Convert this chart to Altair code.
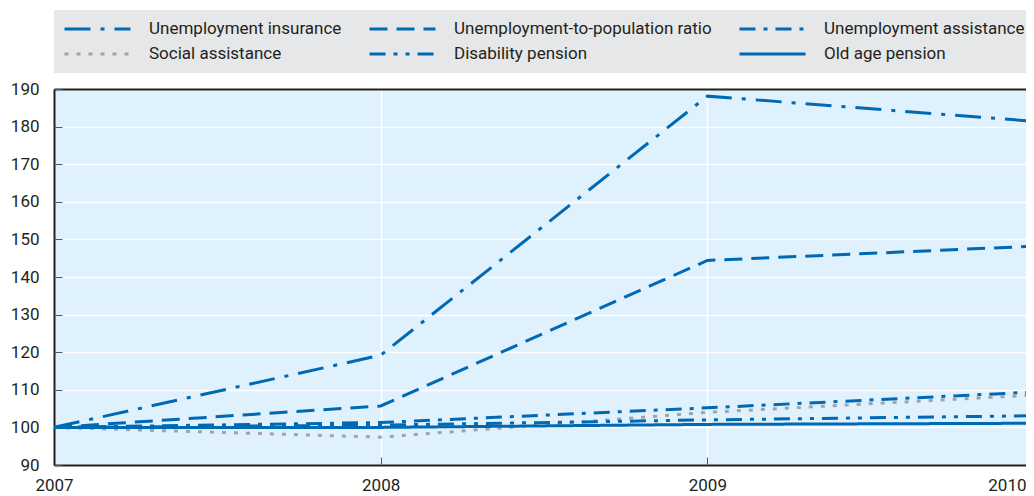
import altair as alt
import pandas as pd

years = [2007, 2008, 2009, 2010]
series_names = [
    "Unemployment insurance",
    "Unemployment-to-population ratio",
    "Unemployment assistance",
    "Social assistance",
    "Disability pension",
    "Old age pension",
]
unemployment_insurance = [100, 119.2, 188.1, 181.4]
unemployment_to_population = [100, 105.7, 144.4, 148.2]
unemployment_assistance = [100, 101.3, 105.2, 109.4]
social_assistance = [100, 97.4, 104.0, 108.6]
disability_pension = [100, 100.6, 102.0, 103.1]
old_age_pension = [100, 100.0, 100.8, 101.1]
y_ticks = list(range(90, 191, 10))

all_series = [
    unemployment_insurance,
    unemployment_to_population,
    unemployment_assistance,
    social_assistance,
    disability_pension,
    old_age_pension,
]

rows = []
for name, vals in zip(series_names, all_series):
    for yr, v in zip(years, vals):
        rows.append({"series": name, "year": yr, "value": v})
df = pd.DataFrame(rows)

BLUE = "#0069b4"
GREY = "#a3a3a3"
TEXT = "#231f20"
colors = [BLUE, BLUE, BLUE, GREY, BLUE, BLUE]
dashes = [[26, 10, 4, 10], [18, 9], [16, 8, 4, 8], [4, 8], [16, 8, 4, 8, 4, 8], [1, 0]]

W, H = 972, 376
XR = 980  # x range extends past the visible plot edge, as in the cropped original

xscale = alt.Scale(domain=[2007, 2010], range=[0, XR], nice=False, zero=False)
yscale = alt.Scale(domain=[90, 190], nice=False, zero=False)

legend = alt.Legend(
    title=None,
    orient="none",
    direction="horizontal",
    legendX=0,
    legendY=-79,
    columns=3,
    symbolType="stroke",
    symbolSize=4356,
    symbolStrokeWidth=3,
    clipHeight=20,
    rowPadding=5,
    columnPadding=26,
    labelOffset=17,
    labelFontSize=17,
    labelFont="Roboto",
    labelColor=TEXT,
    labelLimit=400,
    fillColor="#e6e7e8",
    padding=9,
)

last_year_test = "datum.value == 2010"

lines = alt.Chart(df).mark_line(strokeWidth=3, clip=True).encode(
    x=alt.X(
        "year:Q",
        scale=xscale,
        axis=alt.Axis(
            title=None,
            orient="bottom",
            values=years,
            format="d",
            grid=True,
            gridColor="white",
            gridWidth=1.5,
            domainColor=TEXT,
            domainWidth=2,
            ticks=False,
            labelPadding=12,
            labelFlush=False,
            labelAlign={"condition": {"test": last_year_test, "value": "right"}, "value": "center"},
            labelOffset={"condition": {"test": last_year_test, "value": -8}, "value": 0},
            labelFontSize=17,
            labelFont="Roboto",
            labelColor=TEXT,
            labelOverlap=False,
        ),
    ),
    y=alt.Y(
        "value:Q",
        scale=yscale,
        axis=alt.Axis(
            title=None,
            orient="left",
            values=y_ticks,
            grid=True,
            gridColor="white",
            gridWidth=1.5,
            domainColor=TEXT,
            domainWidth=2,
            ticks=False,
            labelPadding=15,
            labelFontSize=17,
            labelFont="Roboto",
            labelColor=TEXT,
            labelOverlap=False,
        ),
    ),
    color=alt.Color("series:N", scale=alt.Scale(domain=series_names, range=colors), legend=legend),
    strokeDash=alt.StrokeDash("series:N", scale=alt.Scale(domain=series_names, range=dashes), legend=legend),
)

ticks = alt.Chart(df).mark_line(opacity=0).encode(
    x=alt.X(
        "year:Q",
        scale=xscale,
        axis=alt.Axis(
            title=None, orient="top", offset=-H, values=years, labels=False,
            domain=False, grid=False, ticks=True, tickSize=8, tickColor="#555555", tickWidth=1,
        ),
    ),
    y=alt.Y(
        "value:Q",
        scale=yscale,
        axis=alt.Axis(
            title=None, orient="right", offset=-W, values=y_ticks, labels=False,
            domain=False, grid=False, ticks=True, tickSize=8, tickColor="#555555", tickWidth=1,
        ),
    ),
    detail="series:N",
)

border = alt.Chart(df).mark_line(opacity=0).encode(
    x=alt.X(
        "year:Q",
        scale=xscale,
        axis=alt.Axis(
            title=None, orient="top", values=years, labels=False,
            domain=True, domainColor=TEXT, domainWidth=2, grid=False, ticks=False,
        ),
    ),
    y=alt.Y("value:Q", scale=yscale, axis=None),
    detail="series:N",
)

chart = (
    alt.layer(lines, ticks, border)
    .resolve_axis(x="independent", y="independent")
    .properties(
        width=W,
        height=H,
        autosize=alt.AutoSizeParams(type="none"),
        padding={"left": 46, "top": 81, "right": 0, "bottom": 30},
    )
    .configure_view(fill="#dff1fc", stroke=None)
)

chart.save("out.html", embed_options={"renderer": "svg", "actions": False})
